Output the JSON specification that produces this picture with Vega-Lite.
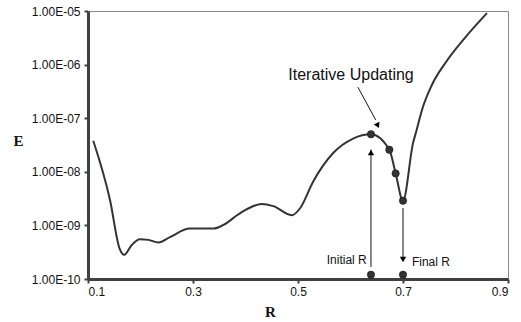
{
  "$schema": "https://vega.github.io/schema/vega-lite/v6.json",
  "autosize": {"type": "none"},
  "width": 420,
  "height": 268,
  "padding": {"left": 88, "top": 11, "right": 13, "bottom": 43},
  "background": "white",
  "config": {
    "view": {"stroke": "#888888", "strokeWidth": 1},
    "font": "Liberation Sans",
    "axis": {
      "grid": false,
      "domainColor": "#404040",
      "domainWidth": 3,
      "tickColor": "#404040",
      "tickWidth": 2,
      "tickSize": 4,
      "labelFont": "Liberation Sans",
      "labelFontSize": 12,
      "labelColor": "#111111",
      "titleFont": "Liberation Serif",
      "titleFontWeight": "bold",
      "titleFontSize": 15,
      "titleColor": "#111111"
    }
  },
  "datasets": {
    "curve": [
      {"R": 0.110, "E": 3.80e-8},
      {"R": 0.142, "E": 2.95e-9},
      {"R": 0.160, "E": 3.72e-10},
      {"R": 0.169, "E": 2.82e-10},
      {"R": 0.183, "E": 4.27e-10},
      {"R": 0.199, "E": 5.50e-10},
      {"R": 0.215, "E": 5.37e-10},
      {"R": 0.234, "E": 4.79e-10},
      {"R": 0.256, "E": 6.03e-10},
      {"R": 0.294, "E": 8.71e-10},
      {"R": 0.339, "E": 8.71e-10},
      {"R": 0.358, "E": 1.02e-9},
      {"R": 0.390, "E": 1.70e-9},
      {"R": 0.431, "E": 2.51e-9},
      {"R": 0.453, "E": 2.29e-9},
      {"R": 0.488, "E": 1.55e-9},
      {"R": 0.504, "E": 2.09e-9},
      {"R": 0.529, "E": 6.61e-9},
      {"R": 0.567, "E": 2.24e-8},
      {"R": 0.605, "E": 4.17e-8},
      {"R": 0.639, "E": 5.01e-8},
      {"R": 0.674, "E": 2.57e-8},
      {"R": 0.686, "E": 9.33e-9},
      {"R": 0.700, "E": 2.88e-9},
      {"R": 0.719, "E": 3.39e-8},
      {"R": 0.726, "E": 6.03e-8},
      {"R": 0.736, "E": 1.41e-7},
      {"R": 0.755, "E": 4.17e-7},
      {"R": 0.782, "E": 1.12e-6},
      {"R": 0.818, "E": 3.16e-6},
      {"R": 0.860, "E": 9.12e-6}
    ],
    "markers": [
      {"R": 0.639, "E": 5.01e-8},
      {"R": 0.674, "E": 2.57e-8},
      {"R": 0.686, "E": 9.33e-9},
      {"R": 0.700, "E": 2.88e-9},
      {"R": 0.639, "E": 1.2e-10},
      {"R": 0.700, "E": 1.2e-10}
    ],
    "vrules": [
      {"R": 0.639, "E1": 1.68e-10, "E2": 2.6e-8},
      {"R": 0.700, "E1": 2.1e-9, "E2": 2.4e-10}
    ],
    "drule": [
      {"R1": 0.614, "E1": 3.8e-7, "R2": 0.648, "E2": 9.3e-8}
    ],
    "upHead": [{"R": 0.639, "E": 2.3e-8}],
    "downHead": [{"R": 0.700, "E": 2.3e-10}],
    "diagHead": [{"R": 0.652, "E": 7.3e-8}],
    "labIter": [{"R": 0.601, "E": 6.4e-7, "label": "Iterative Updating"}],
    "labInit": [{"R": 0.631, "E": 2.26e-10, "label": "Initial R"}],
    "labFinal": [{"R": 0.717, "E": 2.07e-10, "label": "Final R"}]
  },
  "layer": [
    {
      "data": {"name": "curve"},
      "mark": {"type": "line", "interpolate": "monotone", "color": "#333333", "strokeWidth": 2, "clip": false},
      "encoding": {
        "x": {
          "field": "R", "type": "quantitative",
          "scale": {"domain": [0.1, 0.9], "nice": false, "zero": false},
          "axis": {
            "values": [0.1, 0.3, 0.5, 0.7, 0.9],
            "format": ".1f",
            "labelPadding": 3,
            "title": "R",
            "titleX": 182,
            "titleY": 32,
            "titleBaseline": "middle"
          }
        },
        "y": {
          "field": "E", "type": "quantitative",
          "scale": {"type": "log", "domain": [1e-10, 1e-5], "nice": false},
          "axis": {
            "values": [1e-10, 1e-9, 1e-8, 1e-7, 1e-6, 1e-5],
            "labelExpr": "'1.00E-' + (round(-log(datum.value)/LN10) < 10 ? '0' : '') + round(-log(datum.value)/LN10)",
            "labelPadding": 4,
            "title": "E",
            "titleAngle": 0,
            "titleX": -70,
            "titleY": 129,
            "titleAlign": "center",
            "titleBaseline": "middle"
          }
        }
      }
    },
    {
      "data": {"name": "vrules"},
      "mark": {"type": "rule", "color": "#111111", "strokeWidth": 1},
      "encoding": {
        "x": {"field": "R", "type": "quantitative"},
        "y": {"field": "E1", "type": "quantitative"},
        "y2": {"field": "E2"}
      }
    },
    {
      "data": {"name": "drule"},
      "mark": {"type": "rule", "color": "#111111", "strokeWidth": 1},
      "encoding": {
        "x": {"field": "R1", "type": "quantitative"},
        "x2": {"field": "R2"},
        "y": {"field": "E1", "type": "quantitative"},
        "y2": {"field": "E2"}
      }
    },
    {
      "data": {"name": "markers"},
      "mark": {"type": "point", "shape": "circle", "filled": true, "color": "#333333", "opacity": 1, "size": 55, "stroke": "#111111", "strokeWidth": 0.5},
      "encoding": {
        "x": {"field": "R", "type": "quantitative"},
        "y": {"field": "E", "type": "quantitative"}
      }
    },
    {
      "data": {"name": "upHead"},
      "mark": {"type": "point", "shape": "triangle-up", "filled": true, "color": "#000000", "opacity": 1, "size": 40},
      "encoding": {
        "x": {"field": "R", "type": "quantitative"},
        "y": {"field": "E", "type": "quantitative"}
      }
    },
    {
      "data": {"name": "downHead"},
      "mark": {"type": "point", "shape": "triangle-down", "filled": true, "color": "#000000", "opacity": 1, "size": 40},
      "encoding": {
        "x": {"field": "R", "type": "quantitative"},
        "y": {"field": "E", "type": "quantitative"}
      }
    },
    {
      "data": {"name": "diagHead"},
      "mark": {"type": "point", "shape": "triangle-up", "angle": 154, "filled": true, "color": "#000000", "opacity": 1, "size": 40},
      "encoding": {
        "x": {"field": "R", "type": "quantitative"},
        "y": {"field": "E", "type": "quantitative"}
      }
    },
    {
      "data": {"name": "labIter"},
      "mark": {"type": "text", "font": "Liberation Sans", "fontSize": 16, "color": "#111111", "align": "center", "baseline": "middle"},
      "encoding": {
        "x": {"field": "R", "type": "quantitative"},
        "y": {"field": "E", "type": "quantitative"},
        "text": {"field": "label"}
      }
    },
    {
      "data": {"name": "labInit"},
      "mark": {"type": "text", "font": "Liberation Sans", "fontSize": 12, "color": "#111111", "align": "right", "baseline": "middle"},
      "encoding": {
        "x": {"field": "R", "type": "quantitative"},
        "y": {"field": "E", "type": "quantitative"},
        "text": {"field": "label"}
      }
    },
    {
      "data": {"name": "labFinal"},
      "mark": {"type": "text", "font": "Liberation Sans", "fontSize": 12, "color": "#111111", "align": "left", "baseline": "middle"},
      "encoding": {
        "x": {"field": "R", "type": "quantitative"},
        "y": {"field": "E", "type": "quantitative"},
        "text": {"field": "label"}
      }
    }
  ]
}
